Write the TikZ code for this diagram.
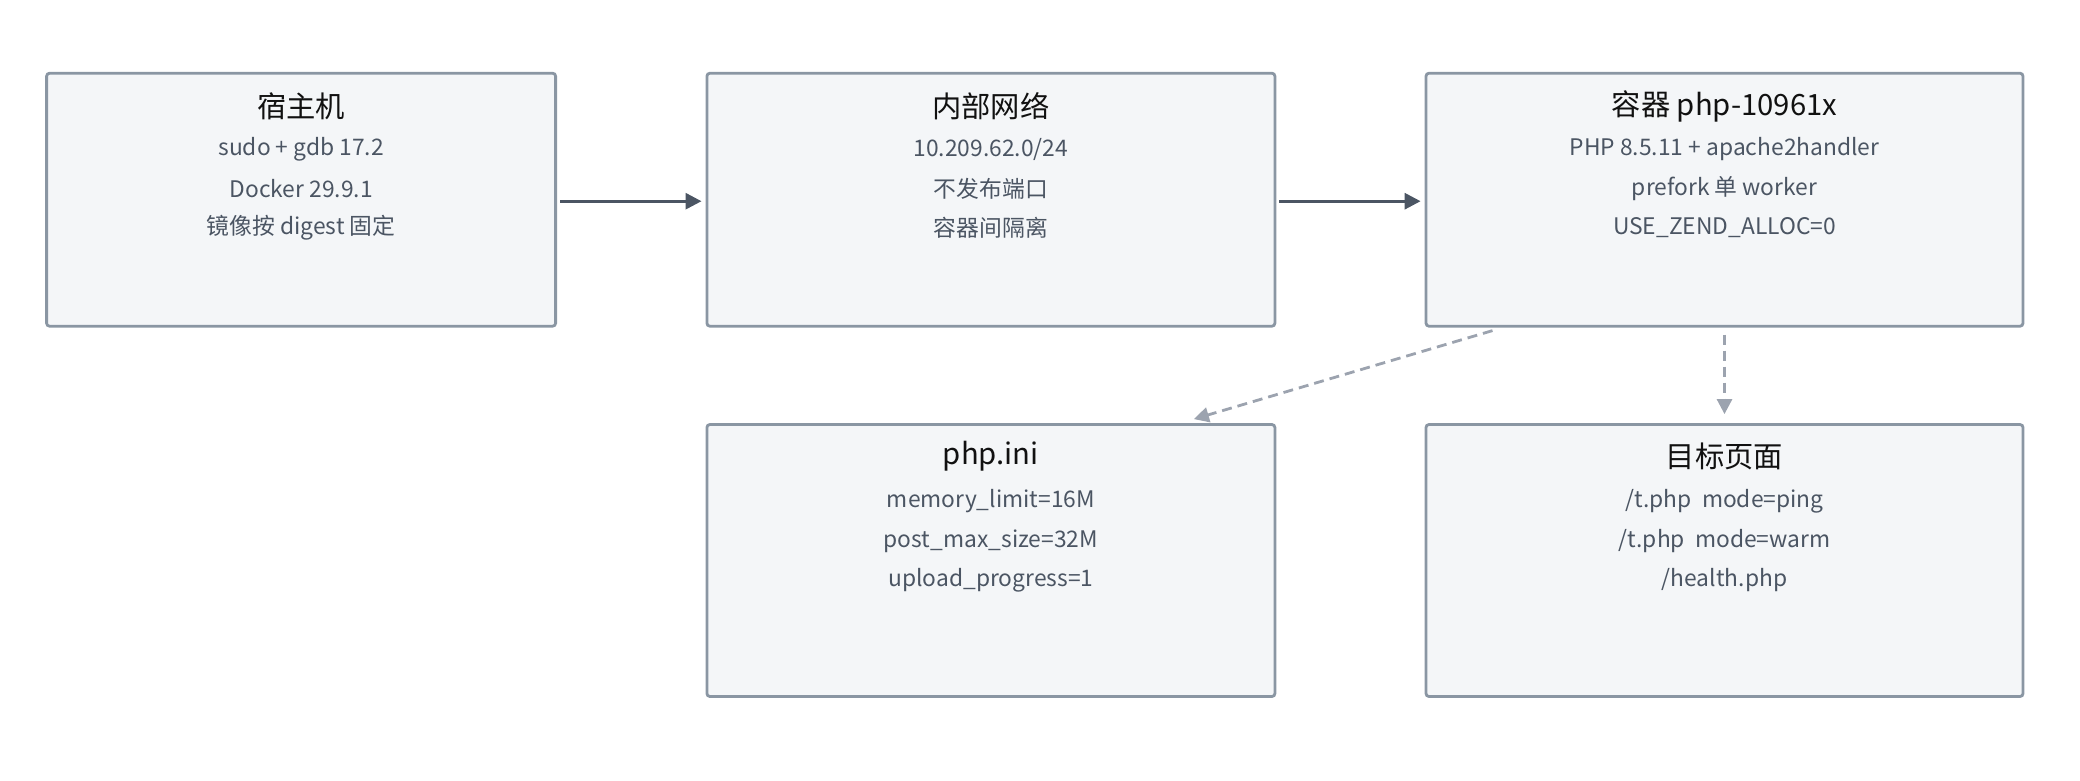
\documentclass[tikz,border=0pt]{standalone}
\usepackage{fontspec}
\setmainfont{Noto Sans CJK SC}
\usetikzlibrary{arrows.meta}
\definecolor{boxfill}{HTML}{F4F6F8}
\definecolor{boxdraw}{HTML}{8A96A3}
\definecolor{solidarr}{HTML}{4B5563}
\definecolor{dasharr}{HTML}{9CA3AF}
\definecolor{bodytxt}{HTML}{4B5563}
\definecolor{ttltxt}{HTML}{111111}
\tikzset{
  x=1pt,y=-1pt,
  card/.style={draw=boxdraw,fill=boxfill,line width=2.8pt,rounded corners=3pt,inner sep=0pt},
  ttl/.style={font=\fontsize{29.3}{33}\selectfont,text=ttltxt,inner sep=0pt},
  bodyline/.style={font=\fontsize{22.8}{26}\selectfont,text=bodytxt,inner sep=0pt},
  solidflow/.style={draw=solidarr,line width=3pt,-{Triangle[length=16pt,width=16pt]}},
  dashflow/.style={draw=dasharr,line width=2.8pt,dash pattern=on 10pt off 6pt,-{Triangle[length=15pt,width=15pt]}},
}
\begin{document}
\begin{tikzpicture}
\useasboundingbox (0,0) rectangle (2080,780);
% boxes
\node[card,minimum width=509pt,minimum height=253pt] (host) at (301.1,199.7) {};
\node[card,minimum width=568pt,minimum height=253pt] (net) at (990.9,199.7) {};
\node[card,minimum width=597pt,minimum height=253pt] (ctr) at (1724.5,199.7) {};
\node[card,minimum width=568pt,minimum height=272pt] (ini) at (990.9,560.5) {};
\node[card,minimum width=597pt,minimum height=272pt] (page) at (1724.5,560.5) {};
% host
\node[ttl] (hostT) at (301.1,106) {宿主机};
\node[bodyline] (hostA) at (301.1,149.5) {sudo + gdb 17.2};
\node[bodyline] (hostB) at (301.1,189) {Docker 29.9.1};
\node[bodyline] (hostC) at (301.1,228) {镜像按 digest 固定};
% net
\node[ttl] (netT) at (990.9,106) {内部网络};
\node[bodyline] (netA) at (990.9,149.5) {10.209.62.0/24};
\node[bodyline] (netB) at (990.9,189) {不发布端口};
\node[bodyline] (netC) at (990.9,228) {容器间隔离};
% container
\node[ttl] (ctrT) at (1724.5,106) {容器 php-10961x};
\node[bodyline] (ctrA) at (1724.5,149.5) {PHP 8.5.11 + apache2handler};
\node[bodyline] (ctrB) at (1724.5,189) {prefork 单 worker};
\node[bodyline] (ctrC) at (1724.5,228) {USE\_ZEND\_ALLOC=0};
% ini
\node[ttl] (iniT) at (990.9,456) {php.ini};
\node[bodyline] (iniA) at (990.9,501.5) {memory\_limit=16M};
\node[bodyline] (iniB) at (990.9,541) {post\_max\_size=32M};
\node[bodyline] (iniC) at (990.9,580) {upload\_progress=1};
% page
\node[ttl] (pageT) at (1724.5,456) {目标页面};
\node[bodyline] (pageA) at (1724.5,501.5) {/t.php\ \ mode=ping};
\node[bodyline] (pageB) at (1724.5,541) {/t.php\ \ mode=warm};
\node[bodyline] (pageC) at (1724.5,580) {/health.php};
% connectors
\draw[solidflow] ([xshift=3pt,yshift=-1.5pt]host.east) -- ([xshift=-4pt,yshift=-1.5pt]net.west);
\draw[solidflow] ([xshift=3pt,yshift=-1.5pt]net.east) -- ([xshift=-4pt,yshift=-1.5pt]ctr.west);
\coordinate (dA) at ([xshift=-232pt,yshift=-3pt]ctr.south);
\coordinate (dB) at ([xshift=203pt,yshift=4pt]ini.north);
\draw[dashflow] (dA) -- (dB);
\draw[dashflow] ([yshift=-7pt]ctr.south) -- ([yshift=9pt]page.north);
\end{tikzpicture}
\end{document}
